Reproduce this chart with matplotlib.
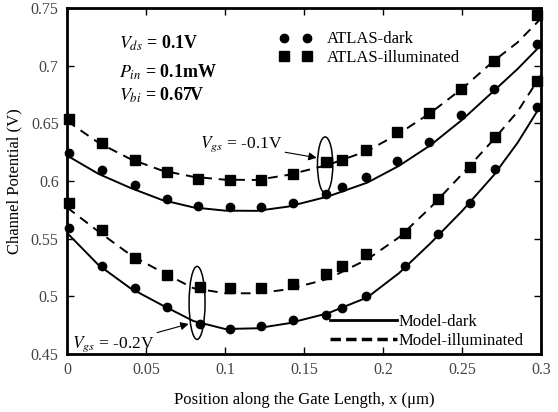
import matplotlib
matplotlib.use("Agg")
import matplotlib.pyplot as plt
from matplotlib.lines import Line2D
from matplotlib.patches import Ellipse

# === データ ===
# ATLAS シミュレーション点
x_atlas_hi = [0.001, 0.022, 0.043, 0.063, 0.083, 0.103, 0.123, 0.143,
              0.164, 0.174, 0.189, 0.209, 0.229, 0.249, 0.270, 0.297]
x_atlas_lo = [0.001, 0.022, 0.043, 0.063, 0.084, 0.103, 0.123, 0.143,
              0.164, 0.174, 0.189, 0.214, 0.235, 0.255, 0.271, 0.297]
atlas_dark_01 = [0.624, 0.609, 0.596, 0.584, 0.578, 0.577, 0.577, 0.581,
                 0.589, 0.595, 0.603, 0.617, 0.634, 0.657, 0.680, 0.719]
atlas_illum_01 = [0.654, 0.633, 0.618, 0.608, 0.602, 0.601, 0.601, 0.606,
                  0.616, 0.618, 0.627, 0.642, 0.659, 0.680, 0.704, 0.744]
atlas_dark_02 = [0.559, 0.526, 0.507, 0.491, 0.476, 0.472, 0.474, 0.479,
                 0.484, 0.490, 0.500, 0.526, 0.554, 0.581, 0.610, 0.664]
atlas_illum_02 = [0.581, 0.557, 0.533, 0.518, 0.508, 0.507, 0.507, 0.511,
                  0.519, 0.526, 0.537, 0.555, 0.584, 0.612, 0.638, 0.687]

# モデル曲線
x_model = [0, 0.02, 0.04, 0.06, 0.08, 0.1, 0.12, 0.14,
           0.165, 0.19, 0.21, 0.23, 0.25, 0.27, 0.285, 0.3]
model_dark_01 = [0.622, 0.606, 0.594, 0.5835, 0.577, 0.5742, 0.574, 0.5777,
                 0.5864, 0.5985, 0.613, 0.631, 0.653, 0.678, 0.697, 0.718]
model_illum_01 = [0.652, 0.633, 0.619, 0.609, 0.6035, 0.601, 0.6008, 0.6052,
                  0.6138, 0.626, 0.641, 0.659, 0.680, 0.704, 0.720, 0.741]
model_dark_02 = [0.555, 0.527, 0.507, 0.4924, 0.4785, 0.4716, 0.4722, 0.4765,
                 0.4852, 0.499, 0.520, 0.546, 0.574, 0.605, 0.633, 0.666]
model_illum_02 = [0.577, 0.556, 0.536, 0.521, 0.507, 0.5026, 0.5025, 0.506,
                  0.515, 0.532, 0.551, 0.577, 0.606, 0.636, 0.660, 0.692]

x_ticks = [0, 0.05, 0.1, 0.15, 0.2, 0.25, 0.3]
x_ticklabels = ['0', '0.05', '0.1', '0.15', '0.2', '0.25', '0.3']
y_ticks = [0.45, 0.5, 0.55, 0.6, 0.65, 0.7, 0.75]
y_ticklabels = ['0.45', '0.5', '0.55', '0.6', '0.65', '0.7', '0.75']

# === スタイル ===
plt.rcParams['font.family'] = ['Liberation Serif', 'DejaVu Serif']
plt.rcParams['mathtext.fontset'] = 'stix'

dash = (0, (5, 3.5))
lw = 1.4

fig = plt.figure(figsize=(5.58, 4.12), dpi=100)
ax = fig.add_axes([0.120, 0.141, 0.850, 0.840])

# モデル線
ax.plot(x_model, model_dark_01, color='black', lw=lw)
ax.plot(x_model, model_illum_01, color='black', lw=lw, linestyle=dash)
ax.plot(x_model, model_dark_02, color='black', lw=lw)
ax.plot(x_model, model_illum_02, color='black', lw=lw, linestyle=dash)

# ATLAS 点
ax.plot(x_atlas_hi, atlas_dark_01, 'o', color='black', ms=6, clip_on=False)
ax.plot(x_atlas_hi, atlas_illum_01, 's', color='black', ms=7, clip_on=False)
ax.plot(x_atlas_lo, atlas_dark_02, 'o', color='black', ms=6, clip_on=False)
ax.plot(x_atlas_lo, atlas_illum_02, 's', color='black', ms=7, clip_on=False)

ax.set_xlim(0, 0.3)
ax.set_ylim(0.45, 0.75)
ax.set_xticks(x_ticks)
ax.set_xticklabels(x_ticklabels)
ax.set_yticks(y_ticks)
ax.set_yticklabels(y_ticklabels)
ax.tick_params(direction='in', top=True, right=True, length=5, width=1,
               labelsize=11.5, labelcolor='#444444', pad=6)
for s in ax.spines.values():
    s.set_linewidth(2)

ax.set_xlabel('Position along the Gate Length, x (\u03bcm)', fontsize=12, labelpad=10)
ax.set_ylabel('Channel Potential (V)', fontsize=12, labelpad=6)

# パラメータ表示
ax.text(0.033, 0.7196, r'$V_{ds}$ = 0.1V', fontsize=13, fontweight='bold', va='center')
ax.text(0.033, 0.6945, r'$P_{in}$ = 0.1mW', fontsize=13, fontweight='bold', va='center')
ax.text(0.033, 0.6745, r'$V_{bi}$ = 0.67V', fontsize=13, fontweight='bold', va='center')

# Vgs 注記
ax.add_patch(Ellipse((0.1633, 0.6138), 0.0097, 0.0486, fill=False, lw=1.1))
ax.add_patch(Ellipse((0.0823, 0.4942), 0.0101, 0.0633, fill=False, lw=1.1))
ax.annotate(r'$V_{gs}$ = -0.1V', xy=(0.158, 0.620), xytext=(0.084, 0.6315),
            fontsize=12.5, va='center',
            arrowprops=dict(arrowstyle='-|>', color='black', lw=0.8,
                            mutation_scale=12, shrinkA=0, shrinkB=0))
ax.annotate(r'$V_{gs}$ = -0.2V', xy=(0.077, 0.476), xytext=(0.003, 0.458),
            fontsize=12.5, va='center',
            arrowprops=dict(arrowstyle='-|>', color='black', lw=0.8,
                            mutation_scale=12, shrinkA=0, shrinkB=0))

# 凡例
h_atlas = [Line2D([], [], marker='o', ls='none', color='black', ms=6),
           Line2D([], [], marker='s', ls='none', color='black', ms=7)]
leg1 = ax.legend(h_atlas, ['ATLAS-dark', 'ATLAS-illuminated'], numpoints=2,
                 loc='upper left', bbox_to_anchor=(0.447, 0.932), frameon=False,
                 fontsize=12, handlelength=2.0, handletextpad=0.9,
                 labelspacing=0.15, borderpad=0, borderaxespad=0)
ax.add_artist(leg1)
h_model = [Line2D([], [], color='black', lw=2),
           Line2D([], [], color='black', lw=2.5, linestyle=(0, (3, 1.5)))]
ax.legend(h_model, ['Model-dark', 'Model-illuminated'], loc='lower left',
          bbox_to_anchor=(0.555, 0.015), frameon=False, fontsize=12,
          handlelength=4.0, handletextpad=0.1, labelspacing=0.15,
          borderpad=0, borderaxespad=0)

plt.savefig('out.png', dpi=100)
